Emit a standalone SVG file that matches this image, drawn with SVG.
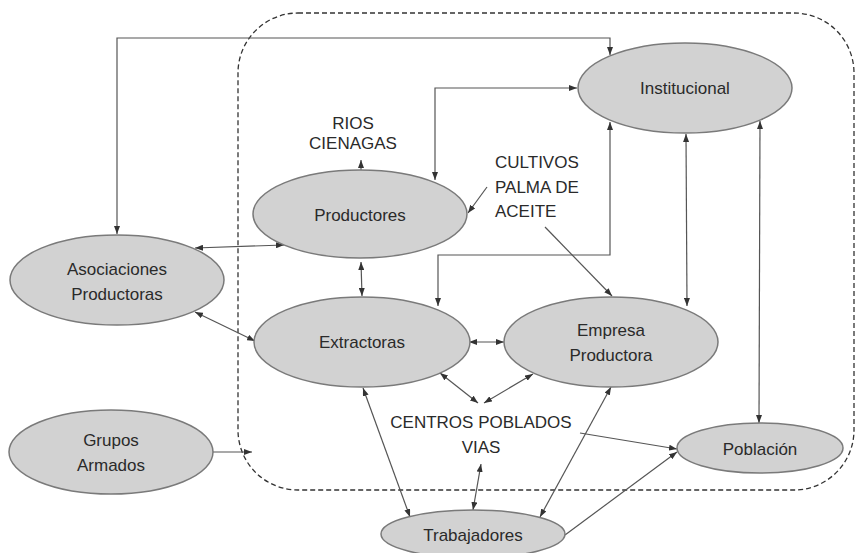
<svg xmlns="http://www.w3.org/2000/svg" width="857" height="553" viewBox="0 0 857 553">
<style>
.n ellipse{fill:#d2d2d2;stroke:#7a7a7a;stroke-width:1.5}
.t{font-family:"Liberation Sans",Arial,sans-serif;font-size:17px;fill:#2a2a2a;text-anchor:middle;dominant-baseline:central}
.c path,.c line{fill:none;stroke:#555;stroke-width:1.2}
.b{marker-start:url(#ar);marker-end:url(#ar)}
.e{marker-end:url(#ar)}
</style>
<defs>
<marker id="ar" viewBox="0 0 8 6" refX="8" refY="3" markerWidth="8" markerHeight="6" orient="auto-start-reverse" markerUnits="userSpaceOnUse"><path d="M0,0 L8,3 L0,6 z" fill="#333"/></marker>
</defs>
<rect width="857" height="553" fill="#fff"/>
<rect id="boundary" x="238" y="13" width="616" height="477" rx="60" ry="60" fill="none" stroke="#333" stroke-width="1.3" stroke-dasharray="5,3"/>
<g class="c" id="connectors">
<path class="b" d="M117,234 V38 H610 V55"/>
<path class="b" d="M435,180 V88 H577"/>
<path class="b" d="M610,122 V255 H438 V306"/>
<line class="b" x1="686" y1="134" x2="687" y2="306"/>
<line class="b" x1="760" y1="121" x2="759" y2="423"/>
<line class="e" x1="487" y1="187" x2="468" y2="213"/>
<line class="e" x1="545" y1="227" x2="612" y2="296"/>
<line class="e" x1="361" y1="170" x2="361" y2="160"/>
<line class="b" x1="195" y1="248" x2="284" y2="245"/>
<line class="b" x1="361" y1="262" x2="362" y2="296"/>
<line class="b" x1="195" y1="312" x2="255" y2="341"/>
<line class="b" x1="469" y1="342" x2="504" y2="342"/>
<line class="b" x1="440" y1="373" x2="478" y2="403"/>
<line class="b" x1="533" y1="374" x2="484" y2="403"/>
<line class="b" x1="363" y1="388" x2="410" y2="517"/>
<line class="b" x1="481" y1="464" x2="473" y2="510"/>
<line class="b" x1="611" y1="387" x2="540" y2="517"/>
<line class="e" x1="580" y1="433" x2="677" y2="449"/>
<line class="e" x1="565" y1="535" x2="677" y2="452"/>
<line class="e" x1="213" y1="452" x2="252" y2="452"/>
</g>
<g class="n" id="institucional"><ellipse cx="685" cy="88" rx="107" ry="45"/><text class="t" x="685" y="88">Institucional</text></g>
<g class="n" id="productores"><ellipse cx="360" cy="214" rx="107" ry="44"/><text class="t" x="360" y="215">Productores</text></g>
<g class="n" id="asociaciones"><ellipse cx="117" cy="280" rx="107" ry="45"/><text class="t" x="117" y="269">Asociaciones</text><text class="t" x="117" y="294">Productoras</text></g>
<g class="n" id="extractoras"><ellipse cx="362" cy="342" rx="108" ry="45"/><text class="t" x="362" y="342">Extractoras</text></g>
<g class="n" id="empresa"><ellipse cx="611" cy="342" rx="107" ry="45"/><text class="t" x="611" y="330">Empresa</text><text class="t" x="611" y="355">Productora</text></g>
<g class="n" id="grupos"><ellipse cx="111" cy="452" rx="102" ry="42"/><text class="t" x="111" y="440">Grupos</text><text class="t" x="111" y="465">Armados</text></g>
<g class="n" id="poblacion"><ellipse cx="760" cy="448" rx="83" ry="25"/><text class="t" x="760" y="449">Población</text></g>
<g class="n" id="trabajadores"><ellipse cx="473" cy="534" rx="92" ry="24"/><text class="t" x="473" y="535">Trabajadores</text></g>
<g id="rios"><text class="t" x="353" y="123">RIOS</text><text class="t" x="353" y="143">CIENAGAS</text></g>
<g id="cultivos"><text class="t" x="495" y="162" style="text-anchor:start">CULTIVOS</text><text class="t" x="495" y="187" style="text-anchor:start">PALMA DE</text><text class="t" x="495" y="211" style="text-anchor:start">ACEITE</text></g>
<g id="centros"><text class="t" x="481" y="422">CENTROS POBLADOS</text><text class="t" x="481" y="447">VIAS</text></g>
</svg>
